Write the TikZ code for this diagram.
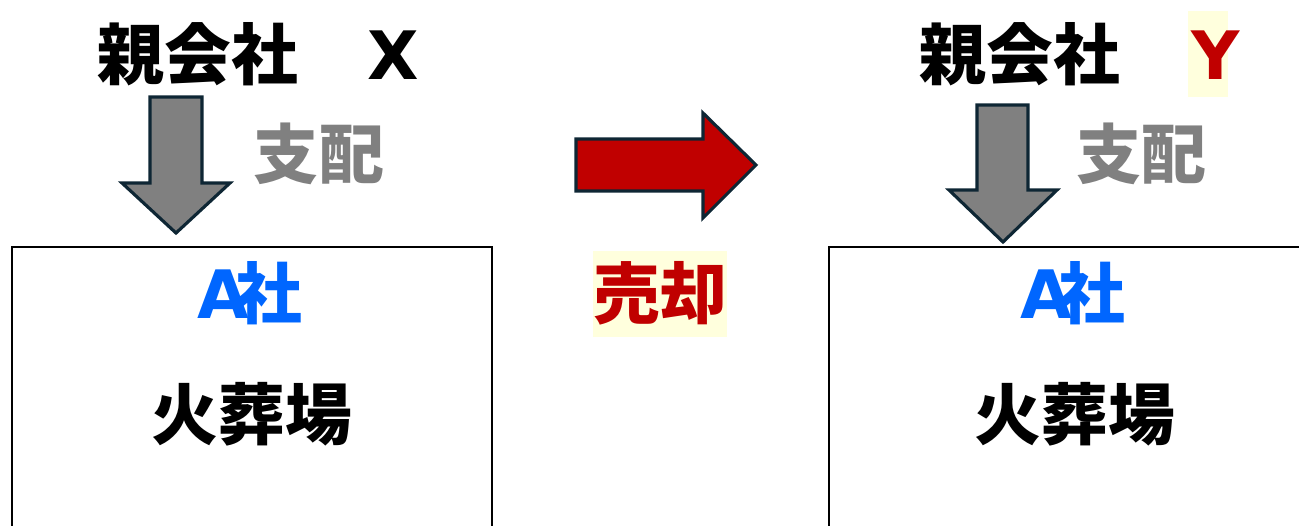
\documentclass[tikz,border=0pt]{standalone}
\usepackage{fontspec}
\setmainfont{Liberation Sans}
\newfontfamily\jpfont{Noto Sans CJK JP}
\newfontfamily\heavy{DejaVu Sans}
\usetikzlibrary{positioning}
\definecolor{arrowgray}{RGB}{128,128,128}
\definecolor{arrowline}{RGB}{14,38,52}
\definecolor{sellred}{RGB}{192,0,0}
\definecolor{ablue}{RGB}{0,102,255}
\definecolor{hlyellow}{RGB}{255,255,221}

\begin{document}
\begin{tikzpicture}[x=0.02cm,y=-0.02cm]
	\tikzset{jp/.style={font=\fontsize{38}{40}\selectfont\bfseries\jpfont,anchor=base,inner sep=0pt}}
	\tikzset{lat/.style={font=\fontsize{38}{40}\selectfont\heavy\bfseries,anchor=base,inner sep=0pt}}
	\tikzset{rule/.style={font=\fontsize{37}{40}\selectfont\bfseries\jpfont,text=arrowgray,anchor=base,inner sep=0pt}}
	\tikzset{fatarrow/.style={draw=arrowline,line width=1.8pt,fill=arrowgray,line join=miter}}
	\tikzset{company/.style={draw=black,line width=1.1pt}}
	\useasboundingbox (0,0) rectangle (1299,525);
	% before the sale
	\node[jp] (parentX) at (198,79) {親会社};
	\node[lat] (nameX) at (393,79) {X};
	\draw[fatarrow] (150,97) -- (202,97) -- (202,183) -- (230,183) -- (176,233) -- (122,183) -- (150,183) -- cycle;
	\node[rule] (ruleX) at (319,178) {支配};
	\draw[company] (12,247) rectangle (492,560);
	\node[jp,text=ablue] (firmX) at (250,318) {{\heavy\bfseries A}\kern-.2em 社};
	\node[jp] (siteX) at (252,439) {火葬場};
	% the sale
	\draw[fatarrow,fill=sellred] (576,139) -- (703,139) -- (703,113) -- (756,165) -- (703,218) -- (703,191) -- (576,191) -- cycle;
	\node[jp,text=sellred,fill=hlyellow,text height=1.34cm,text depth=0.38cm] (sale) at (660,318) {売却};
	% after the sale
	\node[jp] (parentY) at (1020,79) {親会社};
	\fill[hlyellow] (1188,11) rectangle (1228,97);
	\node[lat,text=sellred] (nameY) at (1216,79) {Y};
	\draw[fatarrow] (977,105) -- (1028,105) -- (1028,190) -- (1057,190) -- (1003,242) -- (949,190) -- (977,190) -- cycle;
	\node[rule] (ruleY) at (1141,178) {支配};
	\draw[company] (829,247) rectangle (1340,560);
	\node[jp,text=ablue] (firmY) at (1073,318) {{\heavy\bfseries A}\kern-.2em 社};
	\node[jp] (siteY) at (1075,439) {火葬場};
\end{tikzpicture}
\end{document}
